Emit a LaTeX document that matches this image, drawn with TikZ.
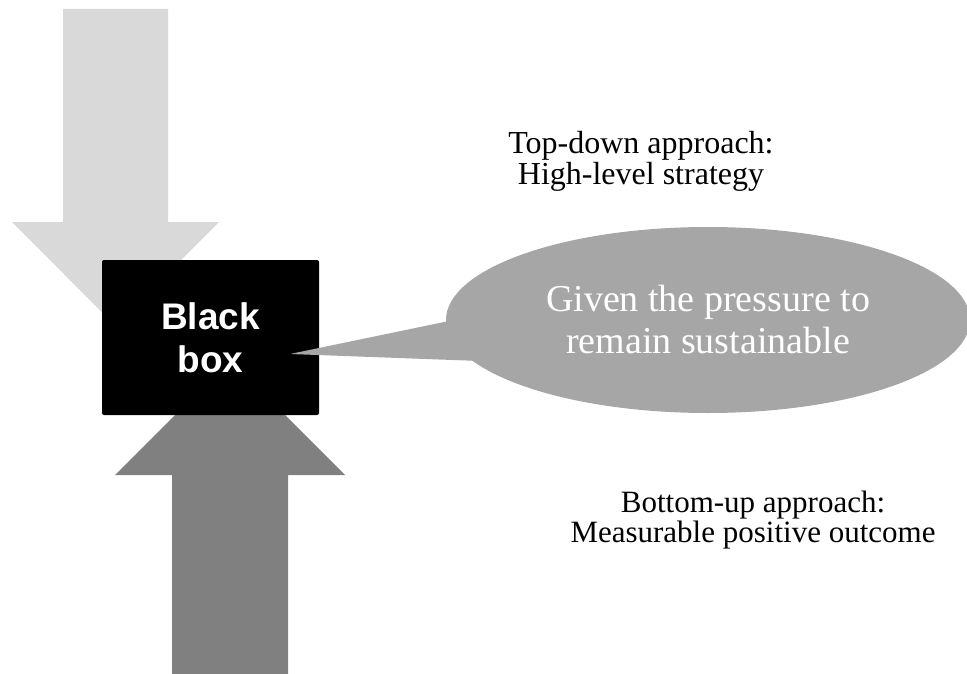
\documentclass[tikz,border=0pt]{standalone}
\usepackage{fontspec}
\setmainfont{Liberation Serif}
\setsansfont{Liberation Sans}
\usetikzlibrary{shapes.geometric}
\definecolor{toparrow}{HTML}{D9D9D9}
\definecolor{botarrow}{HTML}{808080}
\definecolor{callgray}{HTML}{A6A6A6}
\tikzset{
  blackbox/.style={fill=black, draw=none, rounded corners=2pt, minimum width=217pt, minimum height=155pt, inner sep=0pt, text=white, align=center, font=\sffamily\bfseries\fontsize{37}{43}\selectfont},
  callout/.style={ellipse, fill=callgray, draw=none, minimum width=524pt, minimum height=186pt, inner sep=0pt, text=white, align=center, font=\fontsize{38}{42}\selectfont},
  label/.style={align=center, inner sep=0pt, text=black}
}
\begin{document}
\begin{tikzpicture}[x=1pt,y=-1pt]
\useasboundingbox (0,0) rectangle (967,674);
% top-down arrow
\fill[toparrow] (63,9) -- (168,9) -- (168,222) -- (219,222) -- (115.5,326) -- (12,222) -- (63,222) -- cycle;
% bottom-up arrow
\fill[botarrow] (172,680) -- (288,680) -- (288,475) -- (345,475) -- (230,360) -- (115,475) -- (172,475) -- cycle;
% black box
\node[blackbox] (bb) at (210.5,337.5) {Black\\box};
% callout
\node[callout] (co) at (708,320) {Given the pressure to\\remain sustainable};
\coordinate (tip) at (290,354);
\fill[callgray, rounded corners=1.5pt] (tip) -- (449,321) -- (480,361) -- cycle;
% labels
\node[label, font=\fontsize{32}{31}\selectfont] (td) at (641,161) {Top-down approach:\\High-level strategy};
\node[label, font=\fontsize{31}{30}\selectfont] (bu) at (753,520) {Bottom-up approach:\\Measurable positive outcome};
\end{tikzpicture}
\end{document}
